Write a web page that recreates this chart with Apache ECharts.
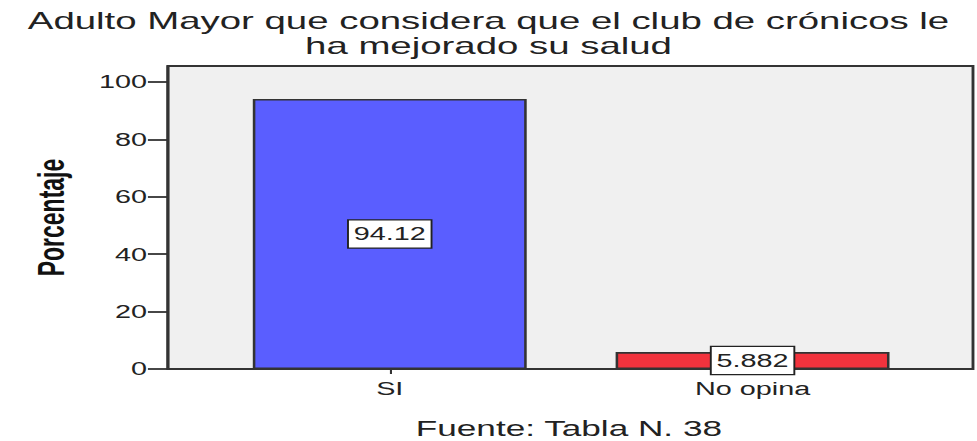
<!DOCTYPE html>
<html>
<head>
<meta charset="utf-8">
<script src="https://cdn.jsdelivr.net/npm/echarts@6/dist/echarts.min.js"></script>
<style>
  html, body { margin: 0; padding: 0; background: #fff; overflow: hidden; }
  /* the original picture is a chart stretched sideways, so draw narrow and stretch */
  #main { width: 611px; height: 441px; transform: scaleX(1.599); transform-origin: 0 0; }
</style>
</head>
<body>
<div id="main"></div>
<script>
const categories = ['SI', 'No opina'];
const values = [94.12, 5.882];
const yTicks = [0, 20, 40, 60, 80, 100];
const yMax = 105.6;
const barColors = ['#5a5eff', '#f2333d'];

const titleLines = ['Adulto Mayor que considera que el club de crónicos le', 'ha mejorado su salud'];
const footText = 'Fuente: Tabla N. 38';

const font = 'Liberation Sans, Arial, sans-serif';
const myChart = echarts.init(document.getElementById('main'), null, { renderer: 'svg' });

const titleStyle = { fontFamily: font, fontSize: 24, fontWeight: 'normal', color: '#222', lineHeight: 22 };

let option = {
    backgroundColor: '#fff',
    animation: false,
    title: [
        { text: titleLines[0], left: 'center', top: 10, padding: 0, textStyle: titleStyle },
        { text: titleLines[1], left: 'center', top: 35, padding: 0, textStyle: titleStyle },
        {
            text: footText,
            left: 260,
            top: 417,
            padding: 0,
            textStyle: { fontFamily: font, fontSize: 22, fontWeight: 'normal', color: '#222', lineHeight: 22 }
        }
    ],
    grid: [
        // frame + grey background
        { left: 105, right: 2.5, top: 66, bottom: 72, show: true, backgroundColor: '#f0f0f0', borderColor: '#333', borderWidth: 1.8 },
        // bars
        { left: 130.3, right: 26.9, top: 66, bottom: 72 }
    ],
    xAxis: [
        { gridIndex: 0, type: 'category', data: categories, show: false },
        {
            gridIndex: 1,
            type: 'category',
            data: categories,
            axisLine: { show: false },
            axisTick: { show: true, alignWithLabel: true, length: 5, lineStyle: { color: '#333', width: 1.3 } },
            axisLabel: { fontFamily: font, fontSize: 18, color: '#222', margin: 11 }
        }
    ],
    yAxis: [
        {
            gridIndex: 0,
            type: 'value',
            min: 0,
            max: yMax,
            name: 'Porcentaje',
            nameLocation: 'middle',
            nameRotate: 90,
            nameGap: 62,
            nameTextStyle: { fontFamily: font, fontSize: 23, fontWeight: 'bold', color: '#111' },
            splitLine: { show: false },
            axisLine: { show: true, lineStyle: { color: '#333', width: 1.8 } },
            axisTick: { show: true, length: 12.5, customValues: yTicks, lineStyle: { color: '#333', width: 1.8 } },
            axisLabel: { customValues: yTicks, fontFamily: font, fontSize: 18, color: '#222', margin: 13 }
        },
        { gridIndex: 1, type: 'value', min: 0, max: yMax, show: false, splitLine: { show: false } }
    ],
    series: [
        {
            type: 'bar',
            xAxisIndex: 1,
            yAxisIndex: 1,
            barWidth: '75.5%',
            data: values.map((v, i) => ({ value: v, itemStyle: { color: barColors[i] } })),
            itemStyle: { borderColor: '#333', borderWidth: 1.6 },
            label: {
                show: true,
                position: 'inside',
                formatter: (p) => String(p.value),
                fontFamily: font,
                fontSize: 18,
                color: '#222',
                backgroundColor: '#fff',
                borderColor: '#222',
                borderWidth: 1.2,
                padding: [5, 3, 4, 3]
            }
        }
    ]
};

myChart.setOption(option);
</script>
</body>
</html>
